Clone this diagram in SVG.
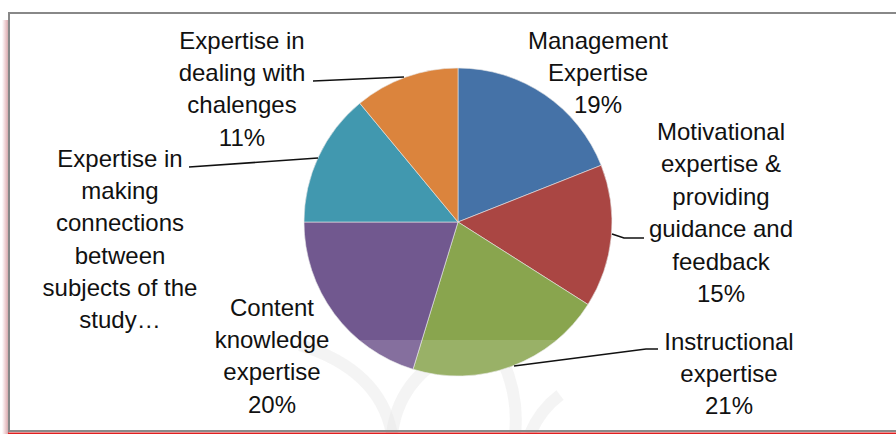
<svg xmlns="http://www.w3.org/2000/svg" width="896" height="434" viewBox="0 0 896 434">
<defs>
<style>
.lbl{font-family:"Liberation Sans",Arial,sans-serif;font-size:24px;fill:#111;text-anchor:middle}
.lead{fill:none;stroke:#111;stroke-width:1.6}
.sl{stroke:#e8e8e8;stroke-width:0.6}
.wm{fill:none;stroke:#e4e4e4;stroke-width:12;opacity:0.45}
</style>
<linearGradient id="sh" x1="0" y1="0" x2="1" y2="0">
<stop offset="0" stop-color="#fff"/>
<stop offset="0.6" stop-color="#e9c3c6"/>
<stop offset="1" stop-color="#c9a0a4"/>
</linearGradient>
</defs>
<rect width="896" height="434" fill="#fff"/>
<rect x="2" y="20" width="7" height="414" fill="url(#sh)"/>
<g id="watermark">
<path class="wm" d="M300,345 Q380,370 392,434"/>
<path class="wm" d="M392,434 Q400,370 470,345"/>
<path class="wm" d="M495,345 Q520,390 515,434"/>
<path class="wm" d="M560,395 Q540,410 530,434"/>
</g>
<g id="pie">
<path id="s-management" class="sl" fill="#4572a7" d="M458,222 L458,68 A154,154 0 0 1 601.2,165.3 Z"/>
<path id="s-motivational" class="sl" fill="#aa4643" d="M458,222 L601.2,165.3 A154,154 0 0 1 588.0,304.5 Z"/>
<path id="s-instructional" class="sl" fill="#89a54e" d="M458,222 L588.0,304.5 A154,154 0 0 1 413.0,369.3 Z"/>
<path id="s-content" class="sl" fill="#71588f" d="M458,222 L413.0,369.3 A154,154 0 0 1 304,222 Z"/>
<path id="s-connections" class="sl" fill="#4198af" d="M458,222 L304,222 A154,154 0 0 1 359.8,103.3 Z"/>
<path id="s-challenges" class="sl" fill="#db843d" d="M458,222 L359.8,103.3 A154,154 0 0 1 458,68 Z"/>
</g>
<rect x="10" y="340" width="886" height="91" fill="#fff" opacity="0.14"/>
<g id="connectors">
<polyline class="lead" points="313,81 404,77"/>
<polyline class="lead" points="189,167 318,158"/>
<polyline class="lead" points="612,234 624,238 644,238"/>
<polyline class="lead" points="514,366 646,349 658,349"/>
</g>
<g id="label-challenges">
<text class="lbl" x="242" y="49">Expertise in</text>
<text class="lbl" x="242" y="81">dealing with</text>
<text class="lbl" x="242" y="113">chalenges</text>
<text class="lbl" x="242" y="146">11%</text>
</g>
<g id="label-connections">
<text class="lbl" x="120" y="167">Expertise in</text>
<text class="lbl" x="120" y="199">making</text>
<text class="lbl" x="120" y="231">connections</text>
<text class="lbl" x="120" y="264">between</text>
<text class="lbl" x="120" y="296">subjects of the</text>
<text class="lbl" x="120" y="328">study…</text>
</g>
<g id="label-content">
<text class="lbl" x="272" y="316">Content</text>
<text class="lbl" x="272" y="348">knowledge</text>
<text class="lbl" x="272" y="380">expertise</text>
<text class="lbl" x="272" y="413">20%</text>
</g>
<g id="label-management">
<text class="lbl" x="598" y="49">Management</text>
<text class="lbl" x="598" y="81">Expertise</text>
<text class="lbl" x="598" y="113">19%</text>
</g>
<g id="label-motivational">
<text class="lbl" x="721" y="140">Motivational</text>
<text class="lbl" x="721" y="172">expertise &amp;</text>
<text class="lbl" x="721" y="205">providing</text>
<text class="lbl" x="721" y="237">guidance and</text>
<text class="lbl" x="721" y="270">feedback</text>
<text class="lbl" x="721" y="302">15%</text>
</g>
<g id="label-instructional">
<text class="lbl" x="729" y="350">Instructional</text>
<text class="lbl" x="729" y="382">expertise</text>
<text class="lbl" x="729" y="414">21%</text>
</g>
<g id="frame">
<line x1="9" y1="13" x2="896" y2="13" stroke="#888" stroke-width="2"/>
<line x1="9" y1="12" x2="9" y2="432" stroke="#888" stroke-width="2"/>
<line x1="8" y1="431" x2="896" y2="431" stroke="#8a8a8a" stroke-width="2"/>
<line x1="8" y1="433.2" x2="896" y2="433.2" stroke="#e02020" stroke-width="1.6"/>
</g>
</svg>
